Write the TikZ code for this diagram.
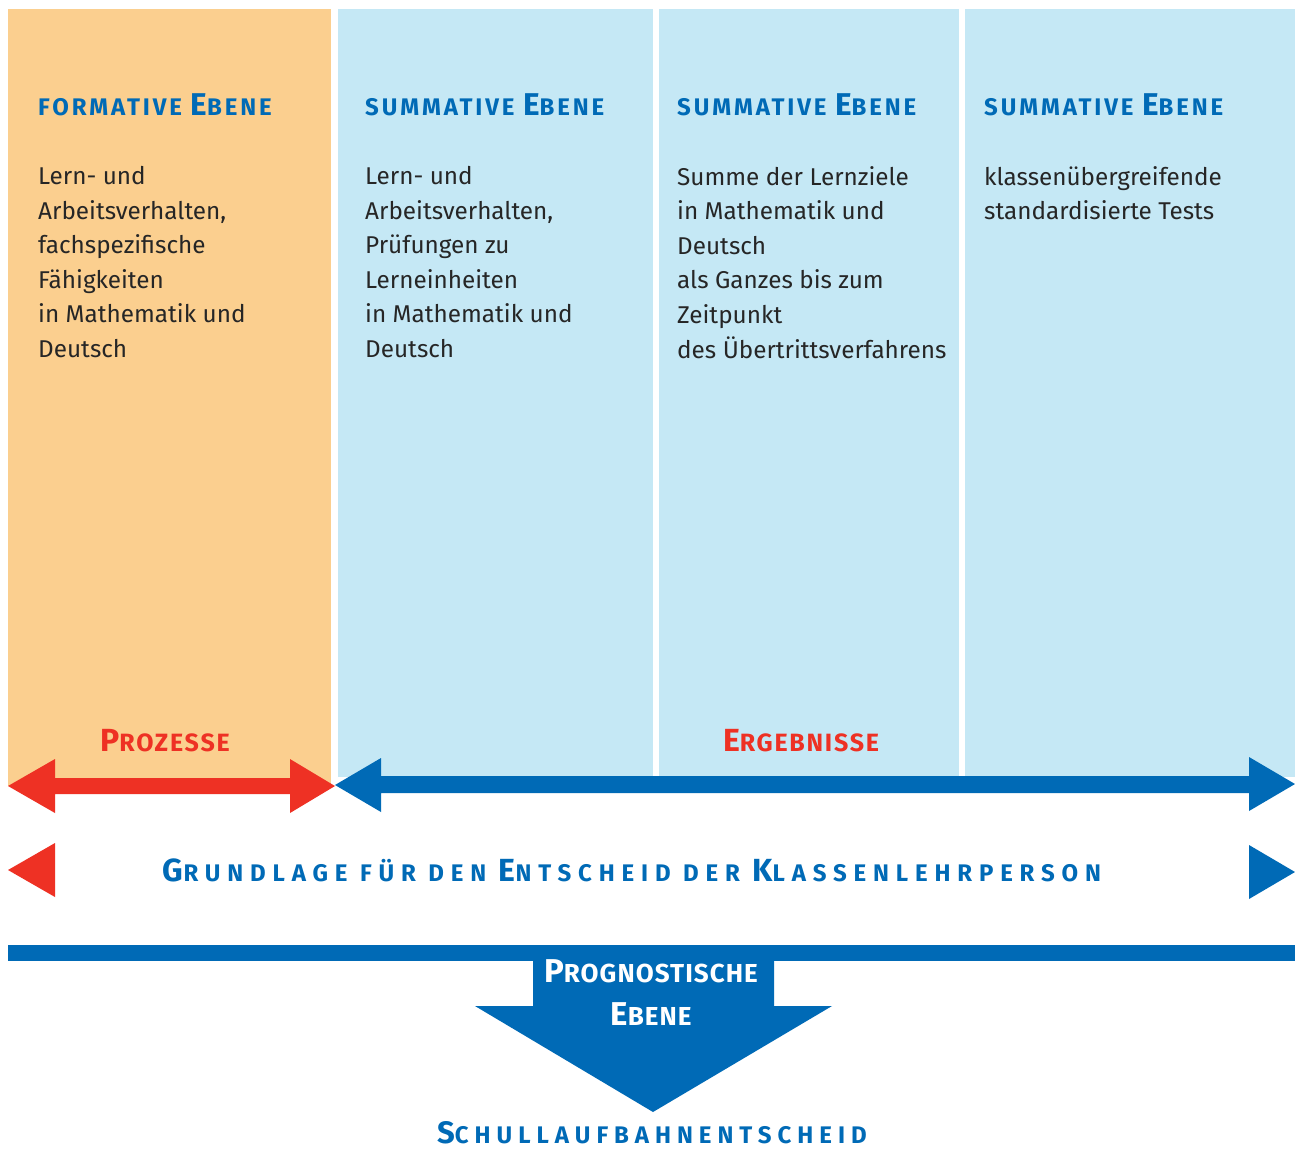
\documentclass[tikz,border=0pt]{standalone}
\usepackage{fontspec}
\setmainfont{Fira Sans}
\definecolor{orangec}{HTML}{FBCF8F}
\definecolor{lblue}{HTML}{C5E8F5}
\definecolor{bluec}{HTML}{006AB6}
\definecolor{redc}{HTML}{EE3124}
\newcommand\fsc[2]{{\fontsize{#1}{#1}\selectfont #2}}
\tikzset{
  hdr/.style={anchor=base west, inner sep=0pt, text=bluec, font=\bfseries\fontsize{24}{24}\selectfont\addfontfeature{LetterSpace=12}},
  body/.style={anchor=north west, inner sep=0pt, align=left, text=black!85, font=\fontsize{24.3}{34.6}\selectfont},
  redlab/.style={anchor=base, inner sep=0pt, text=redc, font=\bfseries\fontsize{25}{25}\selectfont\addfontfeature{LetterSpace=7}},
  spaced/.style={inner sep=0pt, text=bluec, font=\bfseries\fontsize{24}{24}\selectfont\addfontfeature{LetterSpace=25}},
  widespaced/.style={inner sep=0pt, text=bluec, font=\bfseries\fontsize{24}{24}\selectfont\addfontfeature{LetterSpace=28.5}},
  whitelab/.style={inner sep=0pt, text=white, font=\bfseries\fontsize{26}{26}\selectfont\addfontfeature{LetterSpace=4}}
}
\begin{document}
\begin{tikzpicture}[x=1pt,y=-1pt]
\useasboundingbox[fill=white] (0,0) rectangle (1295,1152);
% columns
\fill[orangec] (8,9) rectangle (331,786);
\fill[lblue] (338,9) rectangle (653,777);
\fill[lblue] (659,9) rectangle (959,777);
\fill[lblue] (965,9) rectangle (1295,777);
% headers
\node[hdr] (h1) at (38,115) {FORMATIVE \fsc{31.5}{E}BENE};
\node[hdr] (h2) at (365,115) {SUMMATIVE \fsc{31.5}{E}BENE};
\node[hdr] (h3) at (677,115) {SUMMATIVE \fsc{31.5}{E}BENE};
\node[hdr] (h4) at (984,115) {SUMMATIVE \fsc{31.5}{E}BENE};
% body texts
\node[body] (b1) at (38,166) {Lern- und\\Arbeitsverhalten,\\fachspezifische\\Fähigkeiten\\in Mathematik und\\Deutsch};
\node[body] (b2) at (365,166) {Lern- und\\Arbeitsverhalten,\\Prüfungen zu\\Lerneinheiten\\in Mathematik und\\Deutsch};
\node[body] (b3) at (677,166) {Summe der Lernziele\\in Mathematik und\\Deutsch\\als Ganzes bis zum\\Zeitpunkt\\des Übertrittsverfahrens};
\node[body] (b4) at (984,166) {klassenübergreifende\\standardisierte Tests};
% red labels
\node[redlab] (proz) at (165,751) {\fsc{32}{P}ROZESSE};
\node[redlab] (erg) at (801,751) {\fsc{32}{E}RGEBNISSE};
% red double arrow
\fill[redc] (8,786) -- (55,759) -- (55,778) -- (290,778) -- (290,759) -- (335,786)
  -- (290,813) -- (290,794) -- (55,794) -- (55,813) -- cycle;
% blue arrow
\fill[bluec] (335,785) -- (381,758) -- (381,776) -- (1249,776) -- (1249,757) -- (1295,784)
  -- (1249,811) -- (1249,793) -- (381,793) -- (381,812) -- cycle;
% second row triangles
\fill[redc] (8,870) -- (55,843) -- (55,897) -- cycle;
\fill[bluec] (1295,872) -- (1249,845) -- (1249,899) -- cycle;
\node[widespaced] (grund) at (632,870) {\fsc{32}{G}RUNDLAGE FÜR DEN \fsc{32}{E}NTSCHEID DER \fsc{32}{K}LASSENLEHRPERSON};
% bottom bar and arrow
\fill[bluec] (8,945) rectangle (1295,961);
\fill[bluec] (533,961) -- (774,961) -- (774,1006) -- (832,1006) -- (653,1112) -- (475,1006) -- (533,1006) -- cycle;
\node[whitelab] (prog) at (651,971) {\fsc{33}{P}ROGNOSTISCHE};
\node[whitelab] (eb) at (651,1014) {\fsc{33}{E}BENE};
\node[spaced] (schul) at (652,1133) {\fsc{31}{S}CHULLAUFBAHNENTSCHEID};
\end{tikzpicture}
\end{document}
